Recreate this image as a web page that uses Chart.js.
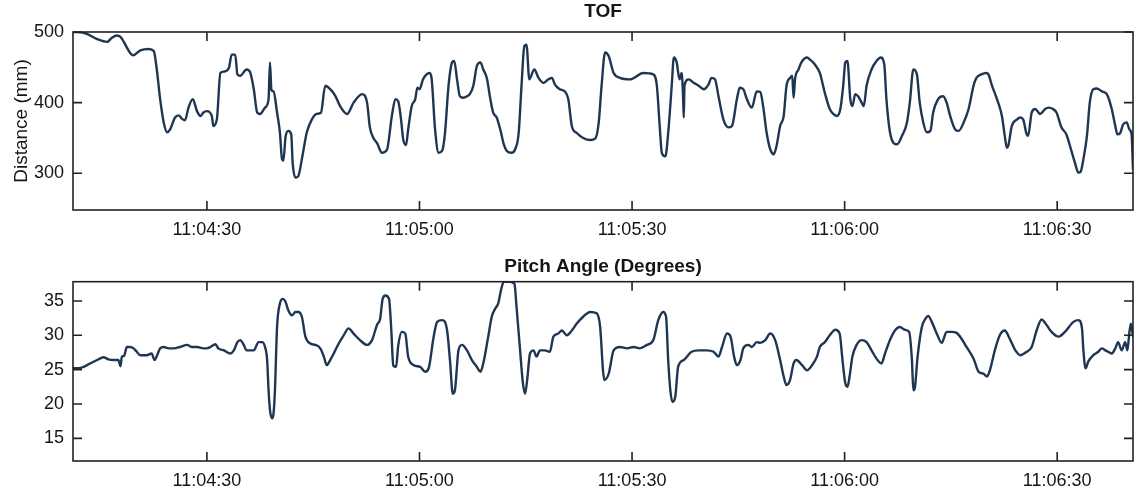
<!DOCTYPE html>
<html lang="en">
<head>
<meta charset="UTF-8">
<title>TOF / Pitch Angle</title>
<script src="https://cdn.jsdelivr.net/npm/chart.js@4.4.0/dist/chart.umd.min.js"></script>
<style>
  html, body { margin: 0; padding: 0; background: #fff; }
  .panel { position: relative; width: 1139px; }
  #topPanel { height: 248px; }
  #bottomPanel { height: 249px; }
</style>
</head>
<body>
<div class="panel" id="topPanel"><canvas id="tofChart"></canvas></div>
<div class="panel" id="bottomPanel"><canvas id="pitchChart"></canvas></div>

<script>
// time axis: seconds after 11:04:00
const tickSeconds = [30, 60, 90, 120, 150];
const tickLabels = ['11:04:30', '11:05:00', '11:05:30', '11:06:00', '11:06:30'];

// TOF distance (mm)
const tofTime = [11.1, 12.6, 14.5, 15.9, 16.6, 17.3, 17.8, 19.2, 19.6, 20.6, 21.8, 22.5, 22.9, 23.4, 23.9, 24.4, 24.8, 25.5, 26.0, 26.5,
  26.9, 27.4, 28.0, 28.6, 29.1, 29.5, 30.0, 30.7, 30.9, 31.4, 31.9, 32.4, 33.1, 33.5, 34.0, 34.3, 34.7, 35.6, 36.1, 36.6,
  37.1, 37.5, 38.2, 38.7, 38.9, 39.1, 39.4, 39.9, 40.3, 40.6, 40.8, 41.1, 41.5, 41.9, 42.1, 42.5, 42.9, 43.4, 44.1, 44.8,
  45.5, 46.1, 46.7, 47.4, 48.1, 48.8, 49.8, 50.7, 51.9, 52.6, 53.0, 53.5, 54.0, 54.7, 55.4, 56.1, 56.6, 57.0, 57.4, 57.7,
  58.1, 58.4, 58.9, 59.4, 59.7, 60.0, 60.5, 61.0, 61.4, 61.7, 62.2, 62.7, 63.2, 63.6, 64.1, 64.6, 64.9, 65.3, 65.7, 66.2,
  66.7, 67.1, 67.6, 68.1, 68.6, 69.0, 69.5, 70.0, 70.4, 70.9, 71.4, 71.9, 72.3, 73.0, 73.5, 74.0, 74.4, 74.8, 75.1, 75.5,
  76.2, 76.8, 77.5, 78.2, 78.7, 79.1, 79.8, 80.5, 81.0, 81.5, 82.2, 83.1, 84.1, 84.8, 85.3, 85.7, 86.2, 86.7, 87.4, 88.3,
  89.7, 91.6, 93.0, 93.5, 93.9, 94.2, 94.7, 95.1, 95.6, 95.9, 96.3, 96.7, 97.0, 97.2, 97.3, 97.4, 98.0, 98.7, 99.4, 100.1,
  100.8, 101.2, 101.7, 102.2, 102.9, 103.6, 104.1, 104.8, 105.2, 105.7, 106.2, 106.9, 107.6, 108.1, 108.5, 109.0, 109.5, 110.0, 110.4, 110.9,
  111.4, 111.8, 112.3, 112.6, 112.8, 113.0, 113.5, 113.9, 114.7, 115.1, 115.8, 116.5, 117.2, 117.9, 118.4, 118.9, 119.4, 119.8, 120.1, 120.4,
  120.8, 121.1, 121.5, 121.9, 122.4, 122.7, 123.1, 123.8, 124.5, 125.1, 125.6, 125.9, 126.4, 126.9, 127.4, 128.1, 128.8, 129.2, 129.7, 130.2,
  130.6, 131.1, 131.6, 132.1, 132.5, 133.2, 133.9, 134.4, 134.9, 135.6, 136.1, 136.8, 137.5, 138.2, 138.6, 139.3, 140.0, 140.3, 140.8, 141.5,
  142.2, 142.6, 142.9, 143.1, 143.6, 144.3, 144.8, 145.2, 145.7, 145.9, 146.4, 146.9, 147.6, 148.3, 148.8, 149.4, 149.9, 150.6, 151.3, 152.0,
  152.5, 153.0, 153.3, 153.7, 154.2, 154.6, 155.1, 155.6, 156.3, 157.0, 157.7, 158.2, 158.5, 158.9, 159.3, 159.8, 160.2, 160.5, 160.7];
const tofMm = [500, 499, 490, 486, 492, 495, 493, 470, 467, 474, 476, 473, 449, 405, 372, 358, 362, 379, 382, 377,
  375, 393, 405, 388, 381, 386, 388, 381, 367, 376, 442, 444, 449, 468, 468, 440, 438, 447, 443, 420,
  386, 384, 393, 405, 457, 418, 416, 386, 358, 320, 318, 352, 360, 355, 315, 294, 296, 320, 358, 376,
  384, 386, 424, 419, 410, 395, 384, 400, 412, 400, 365, 350, 343, 329, 333, 381, 405, 402, 376, 348,
  340, 362, 395, 405, 421, 419, 433, 440, 442, 435, 362, 329, 332, 357, 424, 457, 459, 433, 409, 407,
  409, 412, 424, 452, 457, 447, 435, 405, 386, 379, 362, 341, 332, 329, 334, 357, 424, 480, 482, 433,
  447, 435, 428, 433, 435, 426, 419, 416, 405, 367, 357, 350, 347, 349, 372, 424, 471, 466, 442, 435,
  433, 442, 440, 424, 367, 329, 324, 357, 424, 464, 457, 433, 442, 409, 379, 424, 433, 428, 424, 419,
  426, 435, 433, 409, 376, 365, 367, 405, 421, 419, 405, 393, 416, 415, 395, 357, 334, 327, 339, 367,
  381, 424, 435, 438, 407, 433, 447, 457, 464, 461, 454, 442, 414, 391, 384, 381, 391, 424, 457, 459,
  405, 395, 412, 409, 400, 395, 424, 447, 459, 464, 454, 405, 358, 343, 341, 353, 372, 400, 447, 440,
  400, 372, 358, 360, 386, 405, 409, 400, 381, 362, 360, 372, 391, 424, 435, 440, 442, 440, 424, 405,
  381, 353, 336, 339, 367, 376, 379, 376, 355, 353, 386, 391, 384, 391, 393, 391, 386, 365, 355, 332,
  315, 301, 302, 320, 353, 400, 419, 420, 416, 412, 391, 367, 355, 357, 369, 372, 362, 355, 305];

// Pitch angle (degrees)
const pitchTime = [11.1, 11.9, 12.6, 13.5, 14.5, 15.4, 16.1, 16.8, 17.5, 17.8, 18.0, 18.3, 18.7, 19.2, 19.65, 20.1, 20.6, 21.5, 22.2, 22.6,
  22.9, 23.4, 23.9, 24.6, 25.3, 26.2, 27.2, 27.9, 28.6, 29.5, 30.0, 30.5, 31.2, 31.6, 32.4, 33.3, 33.8, 34.3, 34.7, 35.2,
  35.6, 36.6, 37.3, 37.8, 38.2, 38.5, 38.7, 38.9, 39.2, 39.4, 39.6, 39.9, 40.3, 40.7, 41.1, 41.5, 42.0, 42.5, 42.9, 43.4,
  43.9, 44.6, 45.3, 46.0, 46.5, 46.9, 47.4, 47.9, 48.6, 49.3, 50.0, 50.7, 51.6, 52.6, 53.3, 54.0, 54.45, 54.8, 55.2, 55.7,
  56.0, 56.3, 56.7, 57.0, 57.5, 58.0, 58.4, 59.2, 60.1, 60.8, 61.3, 62.0, 62.5, 63.2, 63.9, 64.3, 64.7, 65.0, 65.5, 66.0,
  66.7, 67.4, 68.1, 68.6, 69.0, 69.7, 70.2, 70.7, 71.1, 71.6, 71.9, 72.8, 73.4, 73.7, 74.2, 74.6, 74.9, 75.2, 75.6, 76.1,
  76.5, 77.0, 77.7, 78.4, 78.9, 79.6, 80.1, 80.8, 81.5, 82.2, 83.1, 84.1, 85.0, 85.5, 85.9, 86.1, 86.7, 87.4, 88.3, 89.3,
  90.2, 91.1, 92.1, 93.0, 93.7, 94.4, 94.8, 95.1, 95.4, 95.7, 96.1, 96.5, 97.3, 98.4, 99.4, 100.5, 101.5, 102.2, 102.7, 103.4,
  103.9, 104.4, 104.8, 105.3, 105.7, 106.4, 106.9, 107.6, 108.1, 108.8, 109.5, 110.2, 110.9, 111.4, 111.8, 112.3, 112.8, 113.2, 114.0, 114.7,
  115.4, 116.1, 116.5, 117.2, 117.9, 118.7, 119.3, 119.7, 120.1, 120.4, 120.7, 121.1, 121.7, 122.4, 123.1, 123.8, 124.5, 125.2, 125.7, 126.4,
  127.1, 127.8, 128.5, 129.1, 129.5, 129.7, 129.9, 130.3, 130.9, 131.4, 131.8, 132.3, 133.0, 133.7, 134.4, 135.1, 135.8, 136.5, 137.2, 138.2,
  138.9, 139.6, 140.1, 140.5, 141.2, 141.9, 142.6, 143.3, 144.1, 144.8, 145.7, 146.4, 147.1, 147.8, 148.3, 149.2, 150.2, 151.1, 152.3, 153.0,
  153.5, 153.7, 154.0, 154.4, 155.1, 155.8, 156.3, 156.8, 157.2, 157.7, 158.2, 158.6, 159.1, 159.6, 159.9, 160.2, 160.4, 160.7];
const pitchDeg = [25.2, 25.2, 25.4, 25.9, 26.4, 26.8, 26.5, 26.4, 26.4, 25.5, 26.9, 27.0, 28.3, 28.3, 28.1, 27.6, 27.1, 27.1, 27.35, 26.4,
  26.9, 28.1, 28.3, 28.1, 28.1, 28.3, 28.6, 28.3, 28.3, 28.1, 28.1, 28.3, 28.7, 28.1, 27.8, 27.35, 27.8, 29.0, 29.3, 28.6,
  27.8, 27.8, 29.0, 29.0, 28.3, 26.4, 22.0, 19.1, 17.9, 18.6, 22.0, 31.2, 34.6, 35.3, 34.85, 33.6, 32.9, 33.4, 33.4, 32.7,
  29.8, 28.8, 28.6, 28.1, 26.9, 25.65, 26.4, 27.35, 28.8, 30.0, 31.0, 30.25, 29.3, 28.6, 29.3, 31.5, 32.4, 35.3, 35.8, 35.3,
  31.2, 25.6, 25.4, 28.5, 30.5, 30.25, 26.9, 25.65, 25.4, 24.7, 25.2, 29.8, 31.95, 32.2, 30.7, 26.4, 21.5, 22.0, 27.8, 28.6,
  27.8, 26.4, 25.4, 24.7, 25.9, 29.8, 32.7, 33.9, 34.6, 37.0, 37.8, 37.8, 37.5, 34.1, 27.8, 23.0, 21.5, 23.5, 27.35, 27.8,
  26.9, 27.8, 27.8, 27.6, 29.8, 30.25, 30.7, 30.0, 30.7, 31.7, 32.7, 33.4, 33.2, 31.2, 24.9, 23.5, 24.4, 27.8, 28.3, 28.1,
  28.3, 28.1, 28.6, 29.3, 32.2, 33.4, 32.7, 26.4, 22.0, 20.3, 21.05, 25.4, 26.4, 27.6, 27.8, 27.8, 27.6, 26.9, 28.3, 30.25,
  29.8, 26.9, 25.65, 26.4, 28.1, 28.6, 28.3, 29.0, 28.9, 29.3, 30.25, 29.3, 26.4, 24.0, 22.75, 23.5, 25.9, 26.4, 25.65, 24.9,
  25.65, 26.9, 28.3, 29.0, 30.0, 30.8, 30.25, 26.4, 23.0, 22.5, 24.0, 26.9, 28.6, 29.3, 29.0, 27.8, 26.6, 25.9, 27.35, 29.3,
  30.7, 31.2, 30.8, 30.5, 26.4, 22.0, 22.3, 26.9, 31.2, 32.4, 32.8, 31.95, 30.25, 28.9, 30.5, 30.5, 30.35, 29.5, 28.3, 26.6,
  24.7, 24.4, 24.0, 24.9, 27.8, 30.0, 30.7, 29.5, 27.8, 27.1, 27.6, 28.3, 30.7, 32.3, 31.8, 30.5, 29.8, 30.5, 31.95, 32.2,
  31.0, 27.8, 25.2, 26.2, 27.1, 27.6, 28.1, 27.8, 27.6, 27.35, 28.1, 29.0, 27.8, 29.0, 27.8, 30.5, 31.7, 29.8];

const tofYTicks = [300, 400, 500];
const pitchYTicks = [15, 20, 25, 30, 35];

const textColor = '#151515';
const lineColor = '#1f3652';
const fontFamily = '"Liberation Sans", Arial, sans-serif';
const tickFont = { family: fontFamily, size: 18 };

// box round the plot area, inward ticks on all four sides, and the
// panel title centred over the plot area
const boxTicks = {
  id: 'boxTicks',
  afterDraw(chart) {
    const { ctx, chartArea: a, scales: { x, y } } = chart;
    const opts = chart.options.plugins.boxTicks;
    const len = 9;
    ctx.save();
    ctx.strokeStyle = '#222';
    ctx.lineWidth = 1.6;
    ctx.strokeRect(a.left, a.top, a.right - a.left, a.bottom - a.top);
    ctx.beginPath();
    x.ticks.forEach(t => {
      const px = x.getPixelForValue(t.value);
      ctx.moveTo(px, a.bottom); ctx.lineTo(px, a.bottom - len);
      ctx.moveTo(px, a.top); ctx.lineTo(px, a.top + len);
    });
    y.ticks.forEach(t => {
      const py = y.getPixelForValue(t.value);
      ctx.moveTo(a.left, py); ctx.lineTo(a.left + len, py);
      ctx.moveTo(a.right, py); ctx.lineTo(a.right - len, py);
    });
    ctx.stroke();

    ctx.fillStyle = textColor;
    ctx.font = 'bold 19px ' + fontFamily;
    ctx.textAlign = 'center';
    ctx.textBaseline = 'middle';
    ctx.fillText(opts.title, (a.left + a.right) / 2, opts.titleY);
    ctx.restore();
  }
};

function makeChart(canvasId, times, values, cfg) {
  const points = times.map((t, i) => ({ x: t, y: values[i] }));
  return new Chart(document.getElementById(canvasId), {
    type: 'line',
    data: {
      datasets: [{
        data: points,
        borderColor: lineColor,
        borderWidth: 2.4,
        pointRadius: 0,
        cubicInterpolationMode: 'monotone',
        fill: false
      }]
    },
    options: {
      responsive: true,
      maintainAspectRatio: false,
      animation: false,
      layout: { padding: { left: 0, right: 6, top: cfg.plotTop, bottom: 0 } },
      plugins: {
        legend: { display: false },
        tooltip: { enabled: false },
        title: { display: false },
        boxTicks: { title: cfg.title, titleY: cfg.titleY }
      },
      scales: {
        x: {
          type: 'linear',
          min: 11.1,
          max: 160.7,
          grid: { display: false, drawTicks: false },
          border: { display: false },
          afterBuildTicks: s => { s.ticks = tickSeconds.map(v => ({ value: v })); },
          afterFit: s => { s.height = cfg.xHeight; },
          ticks: {
            color: textColor,
            font: tickFont,
            padding: 9,
            maxRotation: 0,
            callback: v => tickLabels[tickSeconds.indexOf(v)]
          }
        },
        y: {
          min: cfg.yMin,
          max: cfg.yMax,
          grid: { display: false, drawTicks: false },
          border: { display: false },
          afterBuildTicks: s => { s.ticks = cfg.yTicks.map(v => ({ value: v })); },
          afterFit: s => { s.width = 73; },
          ticks: { color: textColor, font: tickFont, padding: 9 },
          title: {
            display: !!cfg.yTitle,
            text: cfg.yTitle,
            color: textColor,
            font: { family: fontFamily, size: 19 },
            padding: { top: 10, bottom: 0 }
          }
        }
      }
    },
    plugins: [boxTicks]
  });
}

makeChart('tofChart', tofTime, tofMm, {
  title: 'TOF',
  titleY: 12,
  plotTop: 32,
  xHeight: 38,
  yMin: 248, yMax: 500,
  yTicks: tofYTicks,
  yTitle: 'Distance (mm)'
});

makeChart('pitchChart', pitchTime, pitchDeg, {
  title: 'Pitch Angle (Degrees)',
  titleY: 18.5,
  plotTop: 33.7,
  xHeight: 36,
  yMin: 11.7, yMax: 37.8,
  yTicks: pitchYTicks,
  yTitle: ''
});
</script>
</body>
</html>
